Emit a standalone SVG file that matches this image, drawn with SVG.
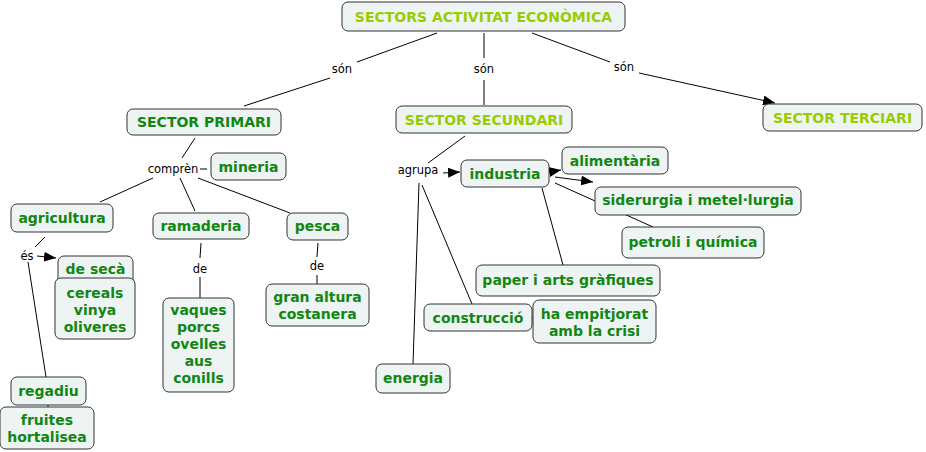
<svg xmlns="http://www.w3.org/2000/svg" width="926" height="452" viewBox="0 0 926 452">
<defs>
<marker id="arr" markerWidth="12" markerHeight="10" refX="12" refY="5" orient="auto" markerUnits="userSpaceOnUse">
<path d="M0,0 L12,5 L0,10 Z" fill="#000"/>
</marker>
<style>
.box{fill:#eef4f3;stroke:#333;stroke-width:1}
.t{font-family:"DejaVu Sans",Verdana,sans-serif;font-weight:bold;font-size:14px;fill:#128612;text-anchor:middle;dominant-baseline:central}
.lg{fill:#99cc00}
.lbl{font-family:"DejaVu Sans",Verdana,sans-serif;font-size:11.5px;fill:#000;text-anchor:middle;dominant-baseline:central}
.c{stroke:#000;stroke-width:1;fill:none}
</style>
</defs>
<rect width="926" height="452" fill="#fff"/>
<g id="connectors">
<line class="c" x1="437" y1="33" x2="357" y2="62"/>
<line class="c" x1="330" y1="78" x2="244" y2="106"/>
<line class="c" x1="484" y1="33" x2="484" y2="58"/>
<line class="c" x1="484" y1="80" x2="484" y2="105"/>
<line class="c" x1="532" y1="33" x2="610" y2="62"/>
<line class="c" x1="639" y1="73" x2="775" y2="103" marker-end="url(#arr)"/>
<line class="c" x1="195" y1="138" x2="182" y2="158"/>
<line class="c" x1="200" y1="169" x2="207" y2="169"/>
<line class="c" x1="153" y1="178" x2="100" y2="202"/>
<line class="c" x1="180" y1="178" x2="195" y2="211"/>
<line class="c" x1="198" y1="178" x2="290" y2="213"/>
<line class="c" x1="201" y1="243" x2="200" y2="258"/>
<line class="c" x1="200" y1="277" x2="200" y2="298"/>
<line class="c" x1="318" y1="243" x2="317" y2="257"/>
<line class="c" x1="317" y1="275" x2="317" y2="284"/>
<line class="c" x1="45" y1="237" x2="35" y2="247"/>
<line class="c" x1="37" y1="256" x2="56" y2="258" marker-end="url(#arr)"/>
<line class="c" x1="28" y1="262" x2="46" y2="377"/>
<line class="c" x1="95" y1="270" x2="95" y2="290"/>
<line class="c" x1="48" y1="395" x2="48" y2="415"/>
<line class="c" x1="465" y1="136" x2="428" y2="163"/>
<line class="c" x1="443" y1="173" x2="460" y2="172" marker-end="url(#arr)"/>
<line class="c" x1="549" y1="172" x2="561" y2="170" marker-end="url(#arr)"/>
<line class="c" x1="555" y1="177" x2="593" y2="182" marker-end="url(#arr)"/>
<line class="c" x1="555" y1="183" x2="653" y2="227"/>
<line class="c" x1="542" y1="188" x2="563" y2="265"/>
<line class="c" x1="422" y1="185" x2="472" y2="304"/>
<line class="c" x1="419" y1="183" x2="413" y2="364"/>
<line class="c" x1="532" y1="318" x2="533" y2="318"/>
</g>
<g id="labels">
<text class="lbl" x="342" y="69">són</text>
<text class="lbl" x="484" y="69">són</text>
<text class="lbl" x="624" y="67">són</text>
<text class="lbl" x="173" y="169">comprèn</text>
<text class="lbl" x="200" y="269">de</text>
<text class="lbl" x="317" y="266">de</text>
<text class="lbl" x="27" y="256">és</text>
<text class="lbl" x="418" y="170">agrupa</text>
</g>
<g id="n-main"><rect class="box" x="342" y="2" width="283" height="29" rx="6"/><text class="t lg" x="483.5" y="17">SECTORS ACTIVITAT ECONÒMICA</text></g>
<g id="n-primari"><rect class="box" x="127" y="109" width="154" height="26" rx="6"/><text class="t" x="204" y="122">SECTOR PRIMARI</text></g>
<g id="n-secundari"><rect class="box" x="396" y="106" width="176" height="27" rx="6"/><text class="t lg" x="484" y="120">SECTOR SECUNDARI</text></g>
<g id="n-terciari"><rect class="box" x="763" y="104" width="159" height="27" rx="6"/><text class="t lg" x="842.5" y="118">SECTOR TERCIARI</text></g>
<g id="n-mineria"><rect class="box" x="211" y="153" width="75" height="27" rx="6"/><text class="t" x="248.5" y="167">mineria</text></g>
<g id="n-agricultura"><rect class="box" x="11" y="204" width="102" height="28" rx="6"/><text class="t" x="62" y="218">agricultura</text></g>
<g id="n-ramaderia"><rect class="box" x="153" y="213" width="96" height="26" rx="6"/><text class="t" x="201" y="226">ramaderia</text></g>
<g id="n-pesca"><rect class="box" x="287" y="213" width="61" height="27" rx="6"/><text class="t" x="317.5" y="226">pesca</text></g>
<g id="n-seca"><rect class="box" x="58" y="256" width="75" height="30" rx="6"/><text class="t" x="95.5" y="269">de secà</text></g>
<g id="n-cereals"><rect class="box" x="55" y="278" width="80" height="61" rx="6"/><text class="t" x="95" y="293">cereals</text><text class="t" x="95" y="310">vinya</text><text class="t" x="95" y="327">oliveres</text></g>
<g id="n-vaques"><rect class="box" x="163" y="298" width="71" height="94" rx="6"/><text class="t" x="198.5" y="310">vaques</text><text class="t" x="198.5" y="327">porcs</text><text class="t" x="198.5" y="344">ovelles</text><text class="t" x="198.5" y="361">aus</text><text class="t" x="198.5" y="378">conills</text></g>
<g id="n-granaltura"><rect class="box" x="266" y="284" width="103" height="42" rx="6"/><text class="t" x="317.5" y="297">gran altura</text><text class="t" x="317.5" y="314">costanera</text></g>
<g id="n-regadiu"><rect class="box" x="11" y="377" width="75" height="28" rx="6"/><text class="t" x="48.5" y="391">regadiu</text></g>
<g id="n-fruites"><rect class="box" x="0" y="407" width="94" height="42" rx="6"/><text class="t" x="47" y="420">fruites</text><text class="t" x="47" y="437">hortalisea</text></g>
<g id="n-industria"><rect class="box" x="461" y="160" width="88" height="27" rx="6"/><text class="t" x="505" y="174">industria</text></g>
<g id="n-alimentaria"><rect class="box" x="562" y="147" width="106" height="27" rx="6"/><text class="t" x="615" y="161">alimentària</text></g>
<g id="n-siderurgia"><rect class="box" x="595" y="187" width="206" height="28" rx="6"/><text class="t" x="698" y="200">siderurgia i metel·lurgia</text></g>
<g id="n-petroli"><rect class="box" x="622" y="227" width="142" height="31" rx="6"/><text class="t" x="693" y="242">petroli i química</text></g>
<g id="n-paper"><rect class="box" x="476" y="265" width="184" height="31" rx="6"/><text class="t" x="568" y="280">paper i arts gràfiques</text></g>
<g id="n-construccio"><rect class="box" x="424" y="304" width="108" height="27" rx="6"/><text class="t" x="478" y="318">construcció</text></g>
<g id="n-empitjorat"><rect class="box" x="533" y="300" width="123" height="43" rx="6"/><text class="t" x="594.5" y="314">ha empitjorat</text><text class="t" x="594.5" y="331">amb la crisi</text></g>
<g id="n-energia"><rect class="box" x="376" y="364" width="74" height="29" rx="6"/><text class="t" x="413" y="378">energia</text></g>
</svg>
